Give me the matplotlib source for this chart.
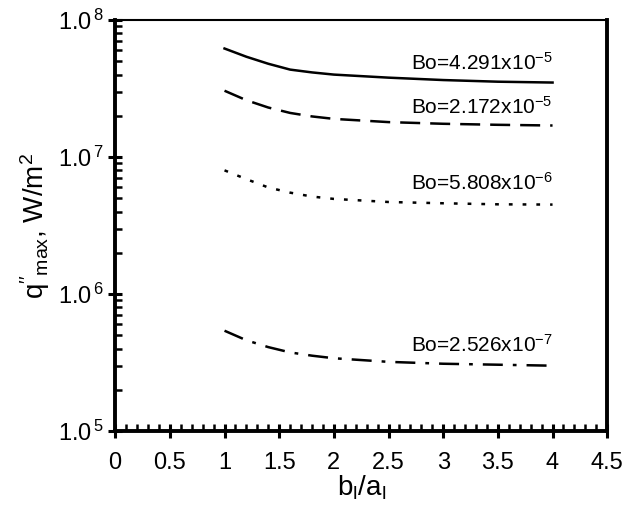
import matplotlib
matplotlib.use("Agg")
import matplotlib.pyplot as plt
import numpy as np
from matplotlib.ticker import MultipleLocator, LogLocator

plt.rcParams['font.family'] = ['Liberation Sans', 'DejaVu Sans']
plt.rcParams['mathtext.fontset'] = 'custom'
plt.rcParams['mathtext.rm'] = 'Liberation Sans'
plt.rcParams['mathtext.it'] = 'Liberation Sans'

# b_l/a_l values and q''max for each Bond number
x = [1.0, 1.2, 1.4, 1.6, 1.8, 2.0, 2.5, 3.0, 3.5, 4.0]
q_bo1 = [6.2e7, 5.4e7, 4.8e7, 4.35e7, 4.15e7, 4.0e7, 3.8e7, 3.65e7, 3.55e7, 3.5e7]
q_bo2 = [3.05e7, 2.6e7, 2.3e7, 2.1e7, 1.98e7, 1.9e7, 1.8e7, 1.75e7, 1.72e7, 1.7e7]
q_bo3 = [8.0e6, 6.9e6, 6.0e6, 5.5e6, 5.15e6, 4.95e6, 4.7e6, 4.6e6, 4.52e6, 4.5e6]
q_bo4 = [5.4e5, 4.6e5, 4.1e5, 3.75e5, 3.55e5, 3.4e5, 3.2e5, 3.1e5, 3.05e5, 3.0e5]
labels = [r'Bo=4.291x10$^{-5}$', r'Bo=2.172x10$^{-5}$',
          r'Bo=5.808x10$^{-6}$', r'Bo=2.526x10$^{-7}$']
label_y = [4.85e7, 2.32e7, 6.46e6, 4.25e5]

fig = plt.figure(figsize=(6.26, 5.15), dpi=100)
ax = fig.add_axes([0.184, 0.163, 0.786, 0.798])

ax.plot(x, q_bo1, color='black', lw=1.8, ls='-')
ax.plot(x, q_bo2, color='black', lw=1.8, dashes=(8, 4))
ax.plot(x, q_bo3, color='black', lw=1.8, dashes=(1.5, 4))
ax.plot(x, q_bo4, color='black', lw=1.8, dashes=(8, 4, 1.5, 4))

for lab, yy in zip(labels, label_y):
    ax.text(4.0, yy, lab, ha='right', va='center', fontsize=15)

ax.set_yscale('log')
ax.set_xlim(0, 4.5)
ax.set_ylim(1e5, 1e8)

ax.set_xticks([0, 0.5, 1, 1.5, 2, 2.5, 3, 3.5, 4, 4.5])
ax.set_xticklabels(['0', '0.5', '1', '1.5', '2', '2.5', '3', '3.5', '4', '4.5'])
ax.xaxis.set_minor_locator(MultipleLocator(0.1))
ax.set_yticks([1e5, 1e6, 1e7, 1e8])
ax.set_yticklabels([r'1.0$^{\,5}$', r'1.0$^{\,6}$', r'1.0$^{\,7}$', r'1.0$^{\,8}$'])
ax.yaxis.set_minor_locator(LogLocator(base=10, subs=np.arange(2, 10)))

ax.tick_params(axis='both', which='major', direction='inout', length=10, width=2.2,
               labelsize=17, top=False, right=False)
ax.tick_params(axis='both', which='minor', direction='in', length=5, width=1.8,
               top=False, right=False)
ax.tick_params(axis='x', pad=10)

for side in ['left', 'bottom', 'right']:
    ax.spines[side].set_linewidth(2.8)
ax.spines['top'].set_linewidth(1.5)

ax.set_xlabel(r'b$_{\rm l}$/a$_{\rm l}$', fontsize=20, labelpad=0)
ax.set_ylabel(r"q$''_{\rm max}$, W/m$^2$", fontsize=20, labelpad=4)

fig.savefig('out.png', dpi=100)
